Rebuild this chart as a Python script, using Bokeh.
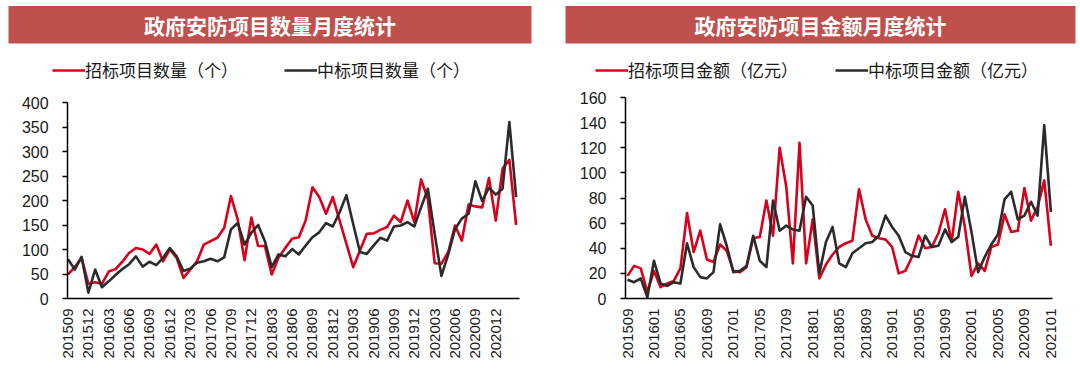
import math
from bokeh.plotting import figure
from bokeh.models import FixedTicker, Legend, LegendItem, Range1d, BoxAnnotation, Label
from bokeh.layouts import row
from bokeh.embed import file_html
from bokeh.resources import INLINE
from bokeh.core.properties import value

# ---------------- data ----------------
left_title = "政府安防项目数量月度统计"
right_title = "政府安防项目金额月度统计"

left_series_names = ["招标项目数量（个）", "中标项目数量（个）"]
right_series_names = ["招标项目金额（亿元）", "中标项目金额（亿元）"]

# monthly, 201509 .. 202103
count_tender = [49, 64, 83, 30, 33, 30, 55, 60, 75, 93,
                103, 100, 91, 110, 76, 100, 83, 42, 59, 76,
                110, 117, 124, 144, 209, 161, 78, 165, 107, 107,
                49, 83, 103, 122, 125, 159, 227, 207, 173, 207,
                159, 112, 64, 98, 132, 133, 140, 146, 169, 156,
                200, 156, 243, 203, 72, 71, 95, 149, 118, 192,
                188, 186, 246, 159, 265, 283, 150]
count_win = [80, 59, 85, 12, 59, 23, 35, 48, 60, 70,
             86, 65, 75, 68, 83, 103, 86, 56, 61, 73,
             76, 81, 76, 84, 141, 154, 110, 134, 150, 117,
             64, 90, 86, 101, 90, 108, 125, 135, 154, 147,
             176, 211, 152, 95, 91, 108, 124, 118, 147, 149,
             156, 147, 186, 224, 132, 46, 90, 142, 163, 173,
             239, 199, 226, 212, 224, 360, 207]

# monthly, 201509 .. 202101
amount_tender = [18, 26, 24, 5, 22, 9, 12, 14, 24, 68,
                 37, 54, 31, 29, 43, 38, 22, 21, 25, 48,
                 49, 78, 50, 120, 89, 28, 124, 28, 63, 16,
                 27, 35, 41, 44, 46, 87, 63, 50, 48, 47,
                 41, 20, 22, 33, 50, 40, 41, 52, 71, 45,
                 85, 57, 18, 28, 22, 41, 43, 67, 53, 54,
                 88, 62, 73, 94, 42]
amount_win = [15, 13, 16, 1, 30, 12, 10, 13, 12, 44,
              25, 17, 16, 21, 59, 42, 21, 22, 26, 50,
              30, 25, 78, 54, 58, 55, 54, 81, 74, 20,
              45, 57, 28, 25, 36, 40, 44, 45, 50, 66,
              57, 50, 37, 34, 33, 50, 41, 42, 55, 45,
              49, 81, 53, 21, 33, 43, 51, 79, 85, 63,
              66, 77, 66, 138, 69]

left_tick_labels = ["201509", "201512", "201603", "201606", "201609", "201612",
                    "201703", "201706", "201709", "201712", "201803", "201806",
                    "201809", "201812", "201903", "201906", "201909", "201912",
                    "202003", "202006", "202009", "202012"]
right_tick_labels = ["201509", "201601", "201605", "201609", "201701", "201705",
                     "201709", "201801", "201805", "201809", "201901", "201905",
                     "201909", "202001", "202005", "202009", "202101"]
left_y_ticks = [0, 50, 100, 150, 200, 250, 300, 350, 400]
right_y_ticks = [0, 20, 40, 60, 80, 100, 120, 140, 160]

# ---------------- style ----------------
RED = "#d9001b"
DARK = "#2b2b2b"
BAR = "#c0504d"
CJK = "Noto Sans CJK SC"
NUM = "Liberation Sans"
TXT = "#1a1a1a"
W, H = 540, 375


def panel(title, s1, s2, names, tick_step, tick_labels, yticks, ymax,
          x0_px, px_per_x, y0_px, px_per_y, x_first, x_last,
          bar_l, bar_r, legend_x, legend_spacing):
    # pixel <-> data helpers (frame covers whole canvas)
    def dx(px):
        return (px - x0_px) / px_per_x

    def dy(py):
        return (y0_px - py) / px_per_y

    p = figure(width=W, height=H, x_range=Range1d(dx(0), dx(W)), y_range=Range1d(dy(H), dy(0)),
               toolbar_location=None, output_backend="svg",
               min_border=0, min_border_left=0, min_border_right=0,
               min_border_top=0, min_border_bottom=0,
               background_fill_color="white", border_fill_color="white",
               outline_line_color=None)
    p.grid.visible = False

    # title bar
    p.add_layout(BoxAnnotation(left=dx(bar_l), right=dx(bar_r), top=dy(5.5), bottom=dy(43),
                               fill_color=BAR, fill_alpha=1.0, line_color=None, level="underlay"))
    p.add_layout(Label(x=dx((bar_l + bar_r) / 2), y=dy(24.5), text=title,
                       text_align="center", text_baseline="middle",
                       text_color="white", text_font=CJK, text_font_style="bold",
                       text_font_size="21px"))

    n = len(s1)
    xs = list(range(n))
    r1 = p.line(xs, s1, line_color=RED, line_width=2.6, line_join="round")
    r2 = p.line(xs, s2, line_color=DARK, line_width=2.6, line_join="round")

    tick_pos = [i * tick_step for i in range(len(tick_labels))]
    xa = p.xaxis[0]
    xa.fixed_location = 0
    xa.bounds = (x_first, x_last)
    xa.ticker = FixedTicker(ticks=tick_pos)
    xa.major_label_overrides = {tp: lab for tp, lab in zip(tick_pos, tick_labels)}
    xa.major_label_orientation = math.pi / 2
    xa.major_label_text_font = NUM
    xa.major_label_text_font_size = "15px"
    xa.major_label_text_color = TXT
    xa.major_tick_out = 0
    xa.major_tick_in = 0
    xa.minor_tick_out = 0
    xa.minor_tick_in = 0
    xa.major_label_standoff = 10
    xa.axis_line_color = "black"
    xa.axis_line_width = 1.5

    ya = p.yaxis[0]
    ya.fixed_location = x_first
    ya.bounds = (0, ymax)
    ya.ticker = FixedTicker(ticks=yticks)
    ya.major_label_text_font = NUM
    ya.major_label_text_font_size = "16px"
    ya.major_label_text_color = TXT
    ya.major_tick_out = 5
    ya.major_tick_in = 0
    ya.minor_tick_out = 0
    ya.minor_tick_in = 0
    ya.major_tick_line_color = "black"
    ya.major_tick_line_width = 1.5
    ya.major_label_standoff = 14
    ya.axis_line_color = "black"
    ya.axis_line_width = 1.5

    legend = Legend(items=[LegendItem(label=names[0], renderers=[r1]),
                           LegendItem(label=names[1], renderers=[r2])],
                    orientation="horizontal", location=(legend_x, H - 82),
                    label_text_font=CJK, label_text_font_size="17px", label_text_color=TXT,
                    glyph_width=33, glyph_height=16, label_standoff=0, spacing=legend_spacing,
                    padding=4, margin=0, border_line_color=None, background_fill_alpha=0)
    p.add_layout(legend, "center")
    return p


c1 = panel(left_title, count_tender, count_win, left_series_names, 3, left_tick_labels,
           left_y_ticks, 400, 67.5, 6.79, 298.0, 0.49, -0.05, 66.5,
           8, 531, 52, 46)
c2 = panel(right_title, amount_tender, amount_win, right_series_names, 4, right_tick_labels,
           right_y_ticks, 160, 87.0, 6.615, 298.0, 1.256, -0.3, 64.2,
           25, 535, 55, 37)

layout = row(c1, c2)
open("out.html", "w").write(file_html(layout, INLINE))
